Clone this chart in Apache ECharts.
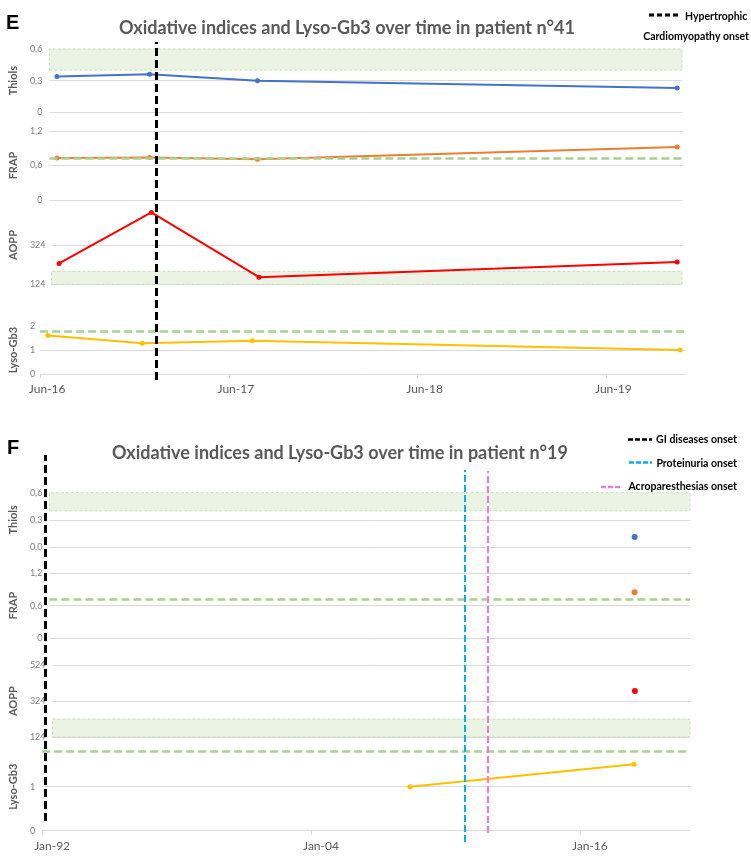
<!DOCTYPE html>
<html><head><meta charset="utf-8">
<script src="https://cdn.jsdelivr.net/npm/echarts@6/dist/echarts.min.js"></script>
<style>html,body{margin:0;padding:0;background:#fff}#main{width:751px;height:856px}</style>
</head><body><div id="main"></div>
<script>
// ================= DATA =================
// Panel E – patient n°41
const E_title = 'Oxidative indices and Lyso-Gb3 over time in patient n°41';
const E_dates = ['2016-06-16', '2016-12-16', '2017-07-16', '2019-10-22'];
const E_thiols = [0.34, 0.36, 0.30, 0.23];
const E_frap = [0.73, 0.74, 0.71, 0.92];
const E_aopp = [230, 490, 160, 237];
const E_lyso = [1.60, 1.28, 1.39, 1.00];
const E_eventNames = ['Hypertrophic Cardiomyopathy onset'];
const E_eventDates = ['2017-01-10'];
const E_xRange = ['2016-06-01', '2019-11-01'];
const E_xTicks = ['2016-06-01', '2017-06-01', '2018-06-01', '2019-06-01'];

// Panel F – patient n°19
const F_title = 'Oxidative indices and Lyso-Gb3 over time in patient n°19';
const F_oxDates = ['2018-06-01'];
const F_thiols = [0.11];
const F_frap = [0.85];
const F_aopp = [381];
const F_lysoDates = ['2008-06-01', '2018-06-01'];
const F_lyso = [1.00, 1.51];
const F_eventNames = ['GI diseases onset', 'Proteinuria onset', 'Acroparesthesias onset'];
const F_eventDates = ['1992-07-01', '2011-01-01', '2012-01-01'];
const F_xRange = ['1992-01-01', '2020-12-01'];
const F_xTicks = ['1992-01-01', '2004-01-01', '2016-01-01'];

// Reference ranges / thresholds
const THIOLS_band = [0.4, 0.6];
const E_AOPP_band = [124, 190];
const F_AOPP_band = [124, 224];
const FRAP_threshold = 0.72;
const LYSO_threshold = 1.8;

// Y tick labels
const THIOLS_ticks = [0, 0.3, 0.6];
const FRAP_ticks = [0, 0.6, 1.2];
const E_AOPP_ticks = [124, 324];
const F_AOPP_ticks = [124, 324, 524];
const E_LYSO_ticks = [0, 1, 2];
const F_LYSO_ticks = [0, 1];

// ================= HELPERS =================
const FONT = 'Lato, "Open Sans", sans-serif';
const MN = ['Jan','Feb','Mar','Apr','May','Jun','Jul','Aug','Sep','Oct','Nov','Dec'];
function monthIdx(s) { const p = s.split('-').map(Number); return (p[0] - 2000) * 12 + (p[1] - 1) + ((p[2] || 1) - 1) / 30.5; }
function fmtMonth(v) { const r = Math.round(v); const y = Math.floor(r / 12); const m = r - y * 12; const yy = ((2000 + y) % 100 + 100) % 100; return MN[m] + '-' + String(yy).padStart(2, '0'); }
const fmtShort = v => String(+(+v).toFixed(2)).replace('.', ',');
const fmtFixed1 = v => (+v).toFixed(1).replace('.', ',');
const fmtInt = v => String(Math.round(v));

const grid = [], xAxis = [], yAxis = [], series = [];

function addGrid(box, xr, showX, ticks, pad) {
  const gi = grid.length;
  grid.push(box);
  const xmin = monthIdx(xr[0]), xmax = monthIdx(xr[1]);
  if (showX) {
    const tv = ticks.map(monthIdx);
    xAxis.push({
      type: 'value', gridIndex: gi, min: xmin, max: xmax,
      axisLine: { show: true, onZero: false, lineStyle: { color: '#d9d9d9', width: 1 } },
      axisTick: { show: true, length: 4, customValues: tv, lineStyle: { color: '#d9d9d9' } },
      axisLabel: { show: true, customValues: tv, formatter: fmtMonth, color: '#595959', fontSize: 12, fontFamily: FONT, margin: 9, padding: [0, 0, 0, pad] },
      splitLine: { show: false }
    });
  } else {
    xAxis.push({ type: 'value', gridIndex: gi, min: xmin, max: xmax, show: false, splitLine: { show: false } });
  }
  return gi;
}
function addY(gi, o) {
  yAxis.push({
    type: 'value', gridIndex: gi, min: o.min, max: o.max,
    name: o.name, nameLocation: 'middle', nameGap: o.nameGap, nameRotate: 90,
    nameTextStyle: { color: '#595959', fontSize: 11, fontWeight: 'bold', fontFamily: FONT },
    axisLine: { show: false },
    axisTick: { show: false, customValues: o.lines },
    axisLabel: { show: true, customValues: o.labels, formatter: o.fmt, color: '#808080', fontSize: 9, fontFamily: FONT, margin: o.margin },
    splitLine: { show: true, lineStyle: { color: '#d9d9d9', width: 1 } }
  });
}
function addHiddenY(gi) { yAxis.push({ type: 'value', gridIndex: gi, min: 0, max: 1, show: false, splitLine: { show: false } }); }

function lineSeries(gi, name, xs, ys, color, size) {
  series.push({
    type: 'line', name, xAxisIndex: gi, yAxisIndex: gi, z: 3, silent: true, animation: false,
    data: xs.map((x, i) => [monthIdx(x), ys[i]]),
    symbol: 'circle', symbolSize: size || 5, showSymbol: true,
    itemStyle: { color }, lineStyle: { color, width: 2 }
  });
}
function band(gi, b) {
  series.push({
    type: 'line', xAxisIndex: gi, yAxisIndex: gi, data: [], silent: true, animation: false,
    markArea: { silent: true, z: 1, itemStyle: { color: '#ebf3e4', borderColor: '#c5e0b4', borderWidth: 1, borderType: [3, 2] },
      data: [[{ yAxis: b[0] }, { yAxis: b[1] }]] }
  });
}
function threshold(gi, v) {
  series.push({
    type: 'line', xAxisIndex: gi, yAxisIndex: gi, data: [], silent: true, animation: false,
    markLine: { silent: true, z: 4, symbol: ['none', 'none'], label: { show: false }, animation: false,
      lineStyle: { color: '#a9d18e', width: 2.5, type: [8, 4] }, data: [{ yAxis: v }] }
  });
}
function eventLine(gi, date, color, width, dash) {
  series.push({
    type: 'line', xAxisIndex: gi, yAxisIndex: gi, data: [], silent: true, animation: false,
    markLine: { silent: true, z: 6, symbol: ['none', 'none'], label: { show: false }, animation: false,
      lineStyle: { color, width, type: dash }, data: [{ xAxis: monthIdx(date) }] }
  });
}

// ================= PANEL E =================
const ETop = { left: 45, width: 637 };
let g;
g = addGrid({ ...ETop, top: 49, height: 63.3 }, E_xRange, false);
addY(g, { min: 0, max: 0.6, name: 'Thiols', nameGap: 22, labels: THIOLS_ticks, lines: [0, 0.3], fmt: fmtShort, margin: 7 });
band(g, THIOLS_band); lineSeries(g, 'Thiols', E_dates, E_thiols, '#4472c4');

g = addGrid({ ...ETop, top: 131, height: 69 }, E_xRange, false);
addY(g, { min: 0, max: 1.2, name: 'FRAP', nameGap: 22, labels: FRAP_ticks, lines: FRAP_ticks, fmt: fmtShort, margin: 7 });
lineSeries(g, 'FRAP', E_dates, E_frap, '#ed7d31'); threshold(g, FRAP_threshold);

g = addGrid({ ...ETop, top: 205.7, height: 78.6 }, E_xRange, false);
addY(g, { min: 124, max: 524, name: 'AOPP', nameGap: 22, labels: E_AOPP_ticks, lines: E_AOPP_ticks, fmt: fmtInt, margin: 6 });
band(g, E_AOPP_band); lineSeries(g, 'AOPP', E_dates, E_aopp, '#ff0000');

g = addGrid({ left: 39, width: 646, top: 326, height: 48 }, E_xRange, true, E_xTicks, 14);
addY(g, { min: 0, max: 2, name: 'Lyso-Gb3', nameGap: 16, labels: E_LYSO_ticks, lines: [0, 1], fmt: fmtInt, margin: 5 });
lineSeries(g, 'Lyso-Gb3', E_dates, E_lyso, '#ffc000'); threshold(g, LYSO_threshold);

g = addGrid({ left: 42, width: 641.5, top: 42, height: 338 }, E_xRange, false);
addHiddenY(g); eventLine(g, E_eventDates[0], '#000000', 3, [8, 4]);

// ================= PANEL F =================
const FBox = { left: 34, width: 656 };
g = addGrid({ ...FBox, top: 492.7, height: 54.3 }, F_xRange, false);
addY(g, { min: 0, max: 0.6, name: 'Thiols', nameGap: 22, labels: THIOLS_ticks, lines: [0, 0.3], fmt: fmtFixed1, margin: 7 });
band(g, THIOLS_band); lineSeries(g, 'Thiols', F_oxDates, F_thiols, '#4472c4', 6);

g = addGrid({ ...FBox, top: 573.3, height: 64.7 }, F_xRange, false);
addY(g, { min: 0, max: 1.2, name: 'FRAP', nameGap: 22, labels: FRAP_ticks, lines: FRAP_ticks, fmt: fmtShort, margin: 7 });
lineSeries(g, 'FRAP', F_oxDates, F_frap, '#ed7d31', 6); threshold(g, FRAP_threshold);

g = addGrid({ ...FBox, top: 665.3, height: 71.7 }, F_xRange, false);
addY(g, { min: 124, max: 524, name: 'AOPP', nameGap: 22, labels: F_AOPP_ticks, lines: F_AOPP_ticks, fmt: fmtInt, margin: 7 });
band(g, F_AOPP_band); lineSeries(g, 'AOPP', F_oxDates, F_aopp, '#ff0000', 6);

g = addGrid({ ...FBox, top: 742.7, height: 88 }, F_xRange, true, F_xTicks, 20);
addY(g, { min: 0, max: 2, name: 'Lyso-Gb3', nameGap: 22, labels: F_LYSO_ticks, lines: F_LYSO_ticks, fmt: fmtInt, margin: 7 });
lineSeries(g, 'Lyso-Gb3', F_lysoDates, F_lyso, '#ffc000'); threshold(g, LYSO_threshold);

const F_eventStyle = [
  { top: 455, height: 366, color: '#000000', width: 3, dash: [8, 4] },
  { top: 470, height: 372, color: '#00b0f0', width: 2, dash: [7, 3] },
  { top: 471, height: 362, color: '#ee7ad6', width: 2, dash: [7, 3] }
];
F_eventDates.forEach((d, i) => {
  const s = F_eventStyle[i];
  const gi = addGrid({ ...FBox, top: s.top, height: s.height }, F_xRange, false);
  addHiddenY(gi); eventLine(gi, d, s.color, s.width, s.dash);
});

// ================= TEXT / LEGENDS =================
const titleFont = 'bold 18px ' + FONT;
const legFont = 'bold 10.5px ' + FONT;
const graphic = [
  { type: 'text', x: 6, y: 23, style: { text: 'E', font: 'bold 20px "Liberation Sans", Arial, sans-serif', fill: '#000', verticalAlign: 'middle' } },
  { type: 'text', x: 347, y: 28, style: { text: E_title, font: titleFont, fill: '#595959', align: 'center', verticalAlign: 'middle' } },
  { type: 'line', shape: { x1: 649, y1: 15, x2: 680, y2: 15 }, style: { stroke: '#000', lineWidth: 3, lineDash: [5, 3] } },
  { type: 'text', x: 685, y: 17, style: { text: 'Hypertrophic', font: legFont, fill: '#000', verticalAlign: 'middle' } },
  { type: 'text', x: 749, y: 36.5, style: { text: 'Cardiomyopathy onset', font: legFont, fill: '#000', align: 'right', verticalAlign: 'middle' } },

  { type: 'text', x: 7, y: 448, style: { text: 'F', font: 'bold 20px "Liberation Sans", Arial, sans-serif', fill: '#000', verticalAlign: 'middle' } },
  { type: 'text', x: 340, y: 453, style: { text: F_title, font: titleFont, fill: '#595959', align: 'center', verticalAlign: 'middle' } },
  { type: 'line', shape: { x1: 628, y1: 439.5, x2: 652, y2: 439.5 }, style: { stroke: '#000', lineWidth: 2.5, lineDash: [5, 2] } },
  { type: 'text', x: 737, y: 440, style: { text: F_eventNames[0], font: legFont, fill: '#000', align: 'right', verticalAlign: 'middle' } },
  { type: 'line', shape: { x1: 629, y1: 462.5, x2: 652, y2: 462.5 }, style: { stroke: '#00b0f0', lineWidth: 2.5, lineDash: [5, 2] } },
  { type: 'text', x: 737, y: 463.5, style: { text: F_eventNames[1], font: legFont, fill: '#000', align: 'right', verticalAlign: 'middle' } },
  { type: 'line', shape: { x1: 601, y1: 487, x2: 622, y2: 487 }, style: { stroke: '#ee7ad6', lineWidth: 2.5, lineDash: [5, 2] } },
  { type: 'text', x: 737, y: 487, style: { text: F_eventNames[2], font: legFont, fill: '#000', align: 'right', verticalAlign: 'middle' } }
];

const chart = echarts.init(document.getElementById('main'), null, { renderer: 'canvas' });
chart.setOption({ animation: false, backgroundColor: '#ffffff', grid, xAxis, yAxis, series, graphic });
</script>
</body></html>
